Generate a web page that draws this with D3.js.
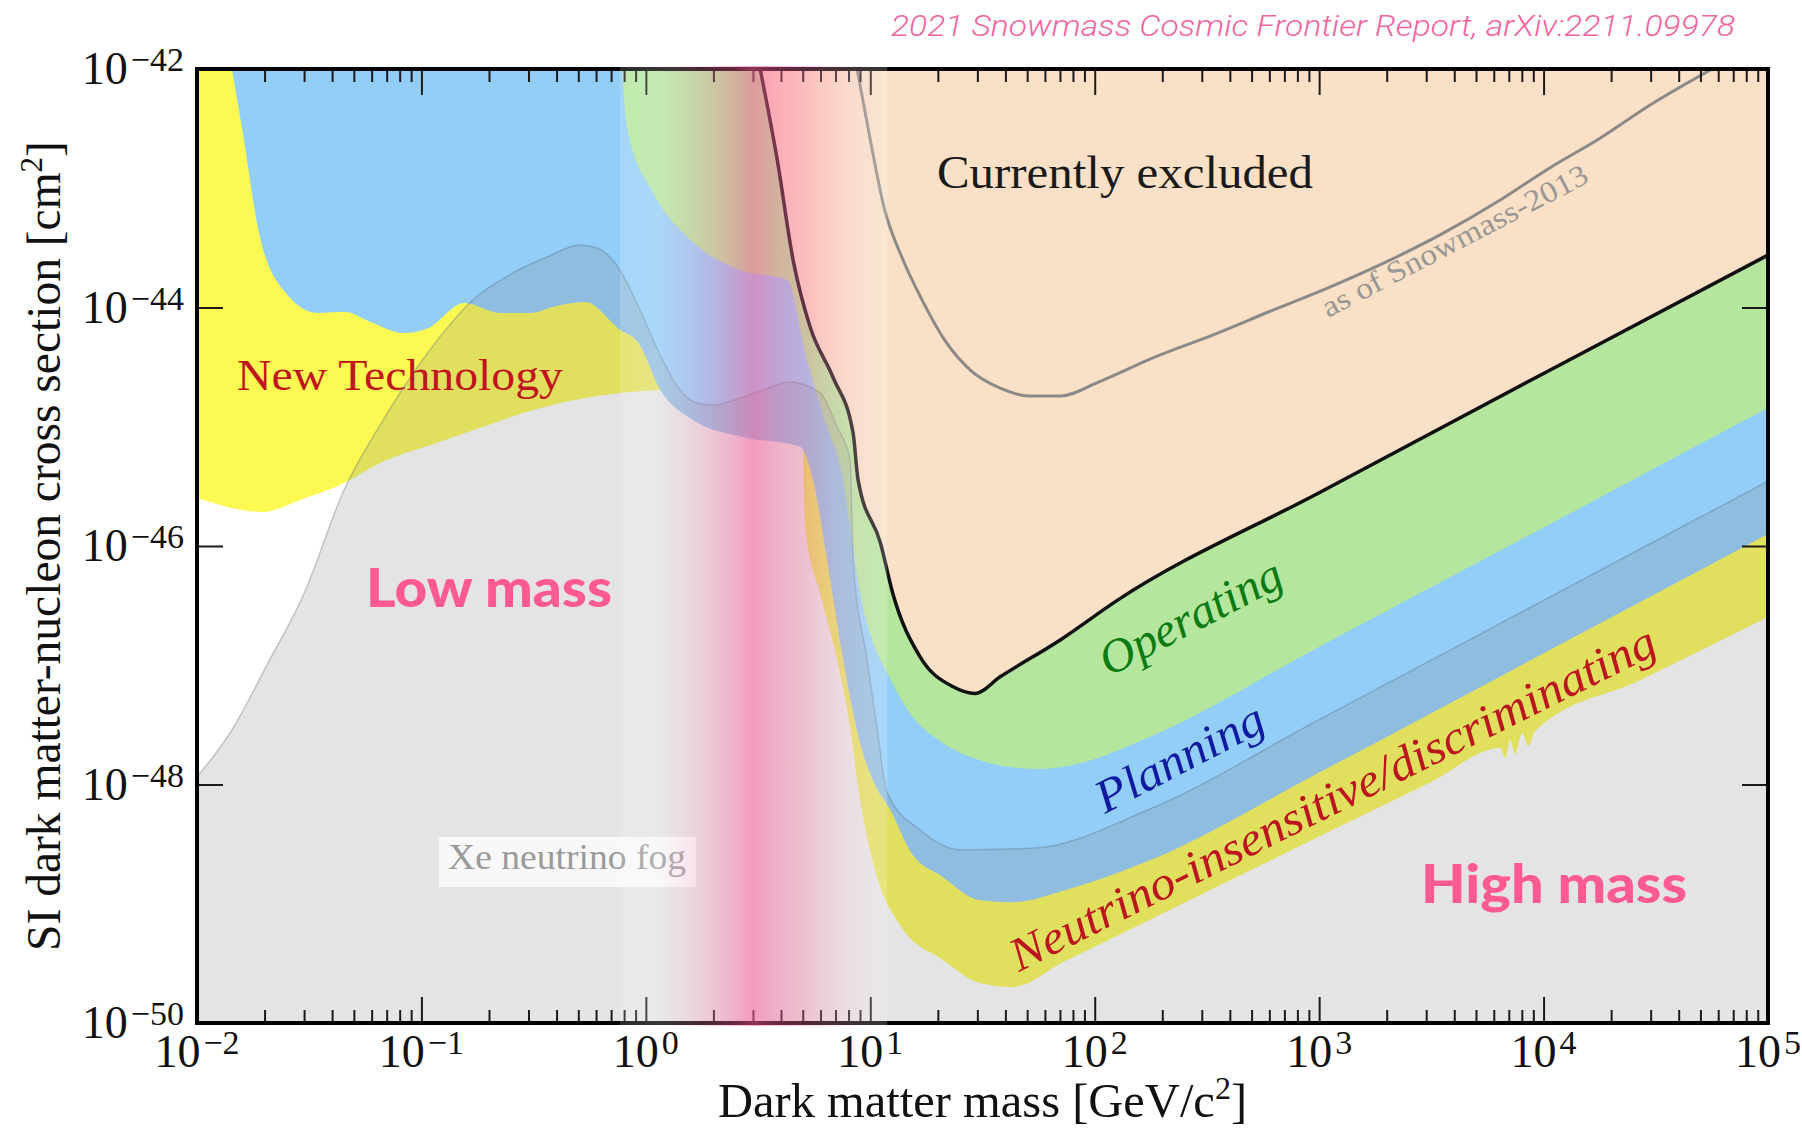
<!DOCTYPE html>
<html>
<head>
<meta charset="utf-8">
<script src="https://cdn.jsdelivr.net/npm/d3@7"></script>
<style>
  html, body { margin: 0; padding: 0; background: #fff; }
  svg { display: block; }
</style>
</head>
<body>
<svg id="chart" width="1802" height="1129"></svg>
<script>
// ---- Data: [dark matter mass in GeV/c^2, SI cross section in cm^2] ----

// Current exclusion limit (black line); everything above is excluded
const exclusionLimit = [
  [3.23, 1e-42], [3.85, 1.73e-43], [4.53, 2.5e-44], [5.39, 6.9e-45], [6.82, 2.6e-45],
  [8.38, 8.9e-46], [8.82, 3.6e-46], [11.1, 1.06e-46], [12.6, 4.0e-47], [16.7, 1.17e-47],
  [23.4, 6.6e-48], [29.3, 5.8e-48], [37.9, 8.0e-48], [70.2, 1.63e-47], [126, 3.5e-47],
  [1e3, 2.8e-46], [1e4, 2.8e-45], [1e5, 2.75e-44]
];

// Lower edge of the "Operating" reach (green)
const operatingReach = [
  [0.784, 1e-42], [0.824, 3.27e-43], [1.08, 9.1e-44], [1.53, 3.9e-44], [2.63, 2.06e-44],
  [4.26, 1.7e-44], [5.23, 3.6e-45], [6.42, 1.0e-45], [7.57, 3.6e-46], [8.13, 1.44e-46],
  [9.01, 4.0e-47], [10.3, 1.54e-47], [11.9, 8.6e-48], [15.0, 3.98e-48], [21.1, 2.23e-48],
  [30.8, 1.6e-48], [42.0, 1.4e-48], [57.1, 1.35e-48], [86.1, 1.51e-48], [175, 2.5e-48],
  [1e3, 1.43e-47], [1e4, 1.43e-46], [1e5, 1.44e-45]
];

// Lower edge of the "Planning" reach (blue)
const planningReach = [
  [0.0143, 1e-42], [0.016, 2.9e-43], [0.0189, 4.2e-44], [0.0249, 1.32e-44], [0.0343, 9.0e-45],
  [0.0452, 9.2e-45], [0.059, 7.6e-45], [0.0836, 6.1e-45], [0.107, 6.7e-45], [0.155, 1.09e-44],
  [0.224, 9.0e-45], [0.308, 9.0e-45], [0.386, 1.01e-44], [0.536, 1.11e-44], [0.767, 6.5e-45],
  [0.923, 5.1e-45], [1.16, 2.03e-45], [1.62, 1.14e-45], [2.71, 8.2e-46], [4.87, 6.8e-46],
  [5.56, 3.6e-46], [6.42, 7.6e-47], [7.57, 1.11e-47], [9.01, 2.23e-48], [10.5, 9.9e-49],
  [12.3, 6.1e-49], [15.0, 2.8e-49], [21.1, 1.67e-49], [30.8, 1.07e-49], [42.8, 1.03e-49],
  [73.8, 1.3e-49], [175, 2.3e-49], [1e3, 1.26e-48], [1e4, 1.26e-47], [1e5, 1.26e-46]
];

// Lower edge of the low-mass "New Technology" region (yellow)
const newTechLowMass = [
  [0.01, 2.53e-46], [0.0197, 1.93e-46], [0.0288, 2.43e-46], [0.0452, 3.37e-46], [0.0654, 4.97e-46],
  [0.109, 7.0e-46], [0.183, 9.8e-46], [0.314, 1.38e-45], [0.509, 1.71e-45], [0.767, 1.92e-45],
  [1.16, 2.03e-45]
];

// Left / lower edge of the high-mass neutrino-insensitive band (yellow)
const neutrinoBandLower = [
  [5.02, 5.3e-46], [5.12, 1.44e-46], [5.97, 4.0e-47], [7.11, 1.11e-47], [8.13, 3.0e-48],
  [9.01, 7.4e-49], [10.5, 1.92e-49], [13.6, 6.6e-50], [21.1, 3.37e-50], [30.8, 2.16e-50],
  [42.8, 2.0e-50], [73.8, 3.31e-50], [126, 5.4e-50], [366, 1.44e-49], [1075, 3.92e-49],
  [3155, 1.05e-48], [6410, 2.02e-48], [6745, 1.67e-48], [7100, 2.36e-48], [7470, 1.8e-48],
  [8030, 2.7e-48], [8540, 2.1e-48], [9180, 2.81e-48], [26900, 7.5e-48], [1e5, 2.54e-47]
];

// Upper edge of the xenon neutrino fog
const neutrinoFog = [
  [0.01, 1.16e-48], [0.0143, 2.86e-48], [0.0207, 1.04e-47], [0.03, 4.0e-47], [0.0452, 2.95e-46],
  [0.0654, 1.03e-45], [0.109, 4.4e-45], [0.17, 1.16e-44], [0.256, 1.95e-44], [0.363, 2.65e-44],
  [0.509, 3.34e-44], [0.606, 3.15e-44], [0.767, 2.06e-44], [0.942, 9.5e-45], [1.19, 3.6e-45],
  [1.42, 2.03e-45], [1.69, 1.58e-45], [1.99, 1.52e-45], [2.45, 1.67e-45], [3.33, 2.03e-45],
  [4.39, 2.37e-45], [5.97, 1.92e-45], [7.11, 1.0e-45], [8.13, 5.3e-46], [8.38, 7.6e-47],
  [9.68, 1.11e-47], [10.7, 3.03e-48], [11.9, 8.5e-49], [16.7, 4.15e-49], [25.1, 2.83e-49],
  [53.7, 2.93e-49], [175, 6.2e-49], [1e3, 3.5e-48], [1e4, 3.5e-47], [1e5, 3.5e-46]
];

// Exclusion limit as of Snowmass-2013 (grey line)
const snowmass2013 = [
  [8.73, 1e-42], [10.0, 2.54e-43], [11.5, 6.97e-44], [14.0, 2.5e-44], [17.0, 1.16e-44],
  [21.5, 5.3e-45], [27.9, 2.99e-45], [37.9, 2.11e-45], [51.0, 1.81e-45], [70.2, 1.81e-45],
  [104, 2.37e-45], [186, 3.85e-45], [337, 5.9e-45], [605, 9.3e-45], [1096, 1.46e-44],
  [1990, 2.41e-44], [3573, 4.2e-44], [6412, 7.96e-44], [10820, 1.51e-43], [17340, 2.54e-43],
  [29850, 4.99e-43], [56360, 1e-42]
];

// Low-mass / high-mass transition band: start, centre, end mass
const transitionMass = [0.767, 3.0, 11.9];

// Axis ticks (powers of ten)
const xTickExponents = [-2, -1, 0, 1, 2, 3, 4, 5];
const yTickExponents = [-42, -44, -46, -48, -50];

// ---- Layout ----
const plot = { left: 197, right: 1768, top: 69, bottom: 1023 };
const massDomain = [1e-2, 1e5];
const sigmaDomain = [1e-50, 1e-42];

const x = d3.scaleLog().domain(massDomain).range([plot.left, plot.right]);
const y = d3.scaleLog().domain(sigmaDomain).range([plot.bottom, plot.top]);

const svg = d3.select('#chart');
const defs = svg.append('defs');

defs.append('clipPath').attr('id', 'plotClip')
  .append('rect')
  .attr('x', plot.left).attr('y', plot.top)
  .attr('width', plot.right - plot.left).attr('height', plot.bottom - plot.top);

const line = d3.line().x(d => x(d[0])).y(d => y(d[1])).curve(d3.curveMonotoneX);
const pt = p => x(p[0]) + ',' + y(p[1]);

// Closed region: optional corner points, a smooth boundary, then closing corners
function regionPath(points, lead, tail) {
  const curve = line(points);
  const head = lead.map((p, i) => (i ? 'L' : 'M') + pt(p)).join('');
  const body = lead.length ? head + 'L' + curve.slice(1) : curve;
  return body + tail.map(p => 'L' + pt(p)).join('') + 'Z';
}

const sigmaTop = sigmaDomain[1], sigmaBottom = sigmaDomain[0];
const xMin = massDomain[0], xMax = massDomain[1];

const regions = svg.append('g').attr('clip-path', 'url(#plotClip)');

// White background of the plot
regions.append('rect')
  .attr('x', plot.left).attr('y', plot.top)
  .attr('width', plot.right - plot.left).attr('height', plot.bottom - plot.top)
  .attr('fill', '#ffffff');

// New Technology (low mass)
regions.append('path')
  .attr('d', regionPath(newTechLowMass, [[xMin, sigmaTop]],
        [[newTechLowMass[newTechLowMass.length - 1][0], sigmaTop]]))
  .attr('fill', '#fcf952');

// Neutrino-insensitive / discriminating band (high mass)
regions.append('path')
  .attr('d', regionPath(neutrinoBandLower, [[neutrinoBandLower[0][0], sigmaTop]], [[xMax, sigmaTop]]))
  .attr('fill', '#fcf952');

// Planning
regions.append('path')
  .attr('d', regionPath(planningReach, [], [[xMax, sigmaTop]]))
  .attr('fill', '#93cef8');

// Operating
regions.append('path')
  .attr('d', regionPath(operatingReach, [], [[xMax, sigmaTop]]))
  .attr('fill', '#b4e69d');

// Currently excluded
regions.append('path')
  .attr('d', regionPath(exclusionLimit, [], [[xMax, sigmaTop]]))
  .attr('fill', '#f9e0c7');

// Neutrino fog (translucent)
regions.append('path')
  .attr('d', regionPath(neutrinoFog, [], [[xMax, sigmaBottom], [xMin, sigmaBottom]]))
  .attr('fill', 'rgb(132,132,138)')
  .attr('fill-opacity', 0.22);
regions.append('path')
  .attr('d', line(neutrinoFog))
  .attr('fill', 'none')
  .attr('stroke', 'rgba(90,108,128,0.35)')
  .attr('stroke-width', 1.5);

// Snowmass-2013 limit
regions.append('path')
  .attr('d', line(snowmass2013))
  .attr('fill', 'none')
  .attr('stroke', '#8c8a88')
  .attr('stroke-width', 3);

// Current exclusion limit
regions.append('path')
  .attr('d', line(exclusionLimit))
  .attr('fill', 'none')
  .attr('stroke', '#111')
  .attr('stroke-width', 3.5)
  .attr('stroke-linejoin', 'round');

// ---- Region labels ----
const serif = '"Liberation Serif", "Times New Roman", serif';

function label(text, tx, ty, opts) {
  const g = svg.append('g').attr('transform', `translate(${tx},${ty}) rotate(${opts.angle || 0})`);
  const t = g.append('text')
    .attr('x', 0).attr('y', 0)
    .attr('font-family', opts.family || serif)
    .attr('font-size', opts.size)
    .attr('font-style', opts.italic ? 'italic' : 'normal')
    .attr('font-weight', opts.weight || 'normal')
    .attr('fill', opts.fill)
    .text(text);
  if (opts.length) t.attr('textLength', opts.length).attr('lengthAdjust', 'spacingAndGlyphs');
  return t;
}

label('New Technology', 237, 390, { size: 44, fill: '#c0141e', length: 326 });
label('Currently excluded', 937, 188, { size: 46, fill: '#1a1a1a', length: 376 });
label('as of Snowmass-2013', 1328, 318, { size: 30, fill: '#9a9896', angle: -27.5, length: 296 });
label('Operating', 1109, 677, { size: 47, italic: true, fill: '#0b7a12', angle: -27.5, length: 200 });
label('Planning', 1105, 814, { size: 47, italic: true, fill: '#101aa0', angle: -27.5, length: 184 });
label('Neutrino-insensitive/discriminating', 1019, 972,
      { size: 47, italic: true, fill: '#bb1520', angle: -26.5, length: 716 });

// Xe neutrino fog tag
svg.append('rect')
  .attr('x', 439).attr('y', 837).attr('width', 257).attr('height', 50)
  .attr('fill', '#ffffff').attr('fill-opacity', 0.75);
label('Xe neutrino fog', 448, 869, { size: 36, fill: '#9a9a9a', length: 238 });

// ---- Frame and ticks ----
const axes = svg.append('g');
const majorX = xTickExponents.map(e => Math.pow(10, e));
const minorX = [];
for (let e = xTickExponents[0]; e < xTickExponents[xTickExponents.length - 1]; e++) {
  for (let k = 2; k <= 9; k++) minorX.push(k * Math.pow(10, e));
}
const majorY = yTickExponents.map(e => Math.pow(10, e));

function tickAxis(axis, tx, ty) {
  const g = axes.append('g').attr('transform', `translate(${tx},${ty})`).call(axis);
  g.select('.domain').remove();
  g.selectAll('.tick line').attr('stroke', '#1a1a1a').attr('stroke-width', 2);
  g.selectAll('.tick text').remove();
  return g;
}
tickAxis(d3.axisBottom(x).tickValues(majorX).tickSizeInner(-26).tickSizeOuter(0), 0, plot.bottom);
tickAxis(d3.axisBottom(x).tickValues(minorX).tickSizeInner(-13).tickSizeOuter(0), 0, plot.bottom);
tickAxis(d3.axisTop(x).tickValues(majorX).tickSizeInner(-26).tickSizeOuter(0), 0, plot.top);
tickAxis(d3.axisTop(x).tickValues(minorX).tickSizeInner(-13).tickSizeOuter(0), 0, plot.top);
tickAxis(d3.axisLeft(y).tickValues(majorY).tickSizeInner(-26).tickSizeOuter(0), plot.left, 0);
tickAxis(d3.axisRight(y).tickValues(majorY).tickSizeInner(-26).tickSizeOuter(0), plot.right, 0);

axes.append('rect')
  .attr('x', plot.left).attr('y', plot.top)
  .attr('width', plot.right - plot.left).attr('height', plot.bottom - plot.top)
  .attr('fill', 'none').attr('stroke', '#000').attr('stroke-width', 4);

// ---- Transition band between low- and high-mass searches ----
const grad = defs.append('linearGradient').attr('id', 'transitionGrad')
  .attr('x1', '0%').attr('x2', '100%').attr('y1', '0%').attr('y2', '0%');
[
  [0.00, 'rgb(255,255,255)', 0.16],
  [0.14, 'rgb(255,250,252)', 0.22],
  [0.32, 'rgb(255,140,185)', 0.28],
  [0.43, 'rgb(255,100,158)', 0.40],
  [0.50, 'rgb(255,95,155)', 0.55],
  [0.58, 'rgb(255,100,158)', 0.42],
  [0.70, 'rgb(255,120,170)', 0.32],
  [0.85, 'rgb(255,200,215)', 0.25],
  [1.00, 'rgb(255,255,255)', 0.20]
].forEach(([o, c, a]) => grad.append('stop')
  .attr('offset', o).attr('stop-color', c).attr('stop-opacity', a));

svg.append('rect')
  .attr('x', x(transitionMass[0])).attr('y', plot.top - 3)
  .attr('width', x(transitionMass[2]) - x(transitionMass[0]))
  .attr('height', plot.bottom - plot.top + 6)
  .attr('fill', 'url(#transitionGrad)');

// ---- Tick labels ----
const minus = '\u2212';
const tickLabels = svg.append('g').attr('font-family', serif).attr('fill', '#111');

xTickExponents.forEach(e => {
  const t = tickLabels.append('text')
    .attr('x', x(Math.pow(10, e))).attr('y', 1067)
    .attr('text-anchor', 'middle').attr('font-size', 46);
  t.append('tspan').text('10');
  t.append('tspan').attr('dy', -13).attr('dx', 3).attr('font-size', 34)
    .text((e < 0 ? minus : '') + Math.abs(e));
});

yTickExponents.forEach(e => {
  const t = tickLabels.append('text')
    .attr('x', 184).attr('y', y(Math.pow(10, e)) + 15)
    .attr('text-anchor', 'end').attr('font-size', 46);
  t.append('tspan').text('10');
  t.append('tspan').attr('dy', -13).attr('dx', 3).attr('font-size', 34)
    .text(minus + Math.abs(e));
});

// ---- Axis titles ----
const xTitle = svg.append('text')
  .attr('x', (plot.left + plot.right) / 2).attr('y', 1117)
  .attr('text-anchor', 'middle').attr('font-family', serif).attr('font-size', 48.5).attr('fill', '#111');
xTitle.append('tspan').text('Dark matter mass [GeV/c');
xTitle.append('tspan').attr('dy', -18).attr('font-size', 32).text('2');
xTitle.append('tspan').attr('dy', 18).text(']');

const yTitle = svg.append('text')
  .attr('transform', `translate(60,${(plot.top + plot.bottom) / 2}) rotate(-90)`)
  .attr('text-anchor', 'middle').attr('font-family', serif).attr('font-size', 47.5).attr('fill', '#111');
yTitle.append('tspan').text('SI dark matter-nucleon cross section [cm');
yTitle.append('tspan').attr('dy', -18).attr('font-size', 31).text('2');
yTitle.append('tspan').attr('dy', 18).text(']');

// ---- Mass-range captions and credit ----
const sans = 'Lato, "Open Sans", sans-serif';
label('Low mass', 366, 607, { size: 54, family: sans, weight: 900, fill: '#ff5a93', length: 246 });
label('High mass', 1421, 903, { size: 54, family: sans, weight: 900, fill: '#ff5a93', length: 266 });

svg.append('text')
  .attr('x', 891).attr('y', 36)
  .attr('font-family', 'Roboto, "Open Sans", sans-serif')
  .attr('font-style', 'italic').attr('font-weight', 300)
  .attr('font-size', 30).attr('fill', '#f3659f')
  .attr('textLength', 844).attr('lengthAdjust', 'spacingAndGlyphs')
  .text('2021 Snowmass Cosmic Frontier Report, arXiv:2211.09978');
</script>
</body>
</html>
